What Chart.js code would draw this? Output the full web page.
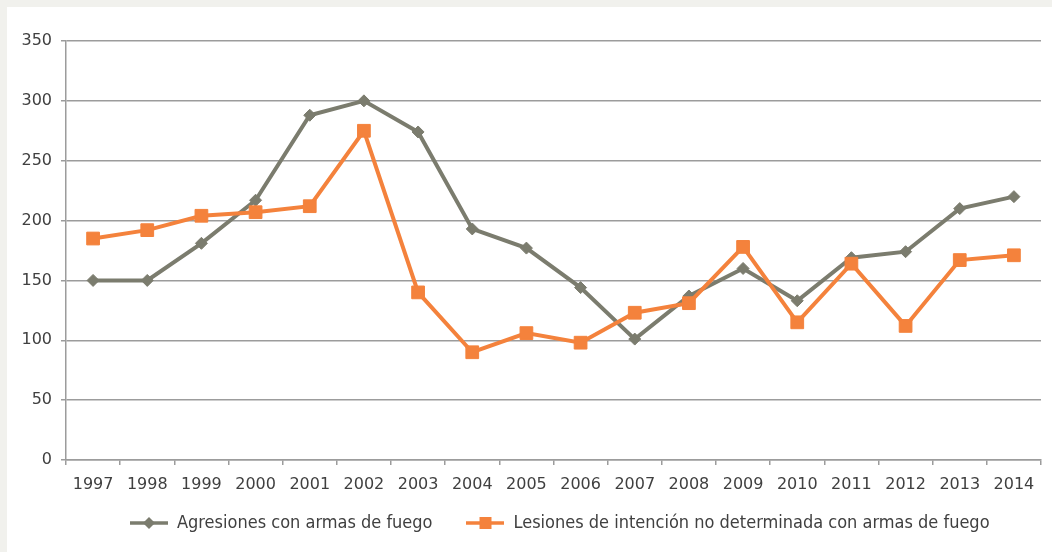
<!DOCTYPE html>
<html lang="es">
  <head>
    <meta charset="UTF-8" />
    <title>Armas de fuego</title>
    <script src="https://cdn.jsdelivr.net/npm/chart.js"></script>
    <style>
      body { margin: 0; background: #f1f1ed; }
      #box { position: absolute; left: 7px; top: 7px; width: 1045px; height: 545px; background: #fff; }
    </style>
  </head>
  <body>
    <div id="box"><canvas id="myChart"></canvas></div>
    <script>
      var years = ["1997", "1998", "1999", "2000", "2001", "2002", "2003", "2004", "2005",
        "2006", "2007", "2008", "2009", "2010", "2011", "2012", "2013", "2014"];
      var agresiones = [150, 150, 181, 217, 288, 300, 274, 193, 177, 144, 101, 137, 160, 133, 169, 174, 210, 220];
      var lesiones = [185, 192, 204, 207, 212, 275, 140, 90, 106, 98, 123, 131, 178, 115, 164, 112, 167, 171];
      var yTicks = [0, 50, 100, 150, 200, 250, 300, 350];

      var grisColor = "#7b7c6e";
      var naranjaColor = "#f4823c";
      var gridColor = "#9c9c9c";
      var textColor = "#404040";

      // small line + marker pictures for the legend
      function legendIcon(color, square) {
        var c = document.createElement("canvas");
        c.width = 38;
        c.height = 14;
        var g = c.getContext("2d");
        g.strokeStyle = color;
        g.lineWidth = 3.5;
        g.beginPath();
        g.moveTo(0, 7);
        g.lineTo(38, 7);
        g.stroke();
        g.fillStyle = color;
        g.beginPath();
        if (square) {
          g.rect(13, 1, 12, 12);
        } else {
          g.moveTo(19, 1);
          g.lineTo(25, 7);
          g.lineTo(19, 13);
          g.lineTo(13, 7);
          g.closePath();
        }
        g.fill();
        return c;
      }

      // put the legend where the original has it
      var legendMove = {
        id: "legendMove",
        afterLayout: function (chart) {
          var lg = chart.legend;
          var w = lg.right - lg.left;
          lg.left = 89;
          lg.right = 89 + w;
          lg.top = 473;
        },
      };

      var ctx = document.getElementById("myChart").getContext("2d");
      var chart = new Chart(ctx, {
        type: "line",
        data: {
          labels: years,
          datasets: [
            {
              label: "Agresiones con armas de fuego",
              data: agresiones,
              borderColor: grisColor,
              backgroundColor: grisColor,
              borderWidth: 4,
              pointStyle: "rectRot",
              pointRadius: 6,
              pointBorderWidth: 1,
              tension: 0,
              order: 2,
            },
            {
              label: "Lesiones de intención no determinada con armas de fuego",
              data: lesiones,
              borderColor: naranjaColor,
              backgroundColor: naranjaColor,
              borderWidth: 4,
              pointStyle: "rect",
              pointRadius: 9,
              pointBorderWidth: 1,
              tension: 0,
              order: 1,
            },
          ],
        },
        options: {
          responsive: true,
          maintainAspectRatio: false,
          animation: false,
          layout: { padding: { top: 34, right: 11, left: 0, bottom: 0 } },
          plugins: {
            tooltip: { enabled: false },
            legend: {
              position: "bottom",
              align: "start",
              labels: {
                usePointStyle: true,
                pointStyleWidth: 38,
                padding: 34,
                color: textColor,
                font: { family: "'DejaVu Sans Condensed', 'Liberation Sans Narrow', sans-serif", size: 18 },
                generateLabels: function (chart) {
                  return [
                    { text: chart.data.datasets[0].label, pointStyle: legendIcon(grisColor, false), fontColor: textColor, lineWidth: 0, datasetIndex: 0 },
                    { text: chart.data.datasets[1].label, pointStyle: legendIcon(naranjaColor, true), fontColor: textColor, lineWidth: 0, datasetIndex: 1 },
                  ];
                },
              },
            },
          },
          scales: {
            x: {
              offset: true,
              grid: { offset: true, drawOnChartArea: false, color: gridColor, lineWidth: 1.5, tickLength: 5 },
              border: { color: gridColor, width: 1.5 },
              ticks: { color: textColor, padding: 10, font: { family: "'DejaVu Sans', sans-serif", size: 16 } },
              afterFit: function (scale) { scale.height = 30; },
            },
            y: {
              min: 0,
              max: 350,
              afterBuildTicks: function (scale) {
                scale.ticks = yTicks.map(function (v) { return { value: v }; });
              },
              grid: { color: gridColor, lineWidth: 1.5, tickLength: 5 },
              border: { color: gridColor, width: 1.5 },
              ticks: { color: textColor, padding: 9, font: { family: "'DejaVu Sans', sans-serif", size: 16 } },
              afterFit: function (scale) { scale.width = 59; },
            },
          },
        },
        plugins: [legendMove],
      });
    </script>
  </body>
</html>
